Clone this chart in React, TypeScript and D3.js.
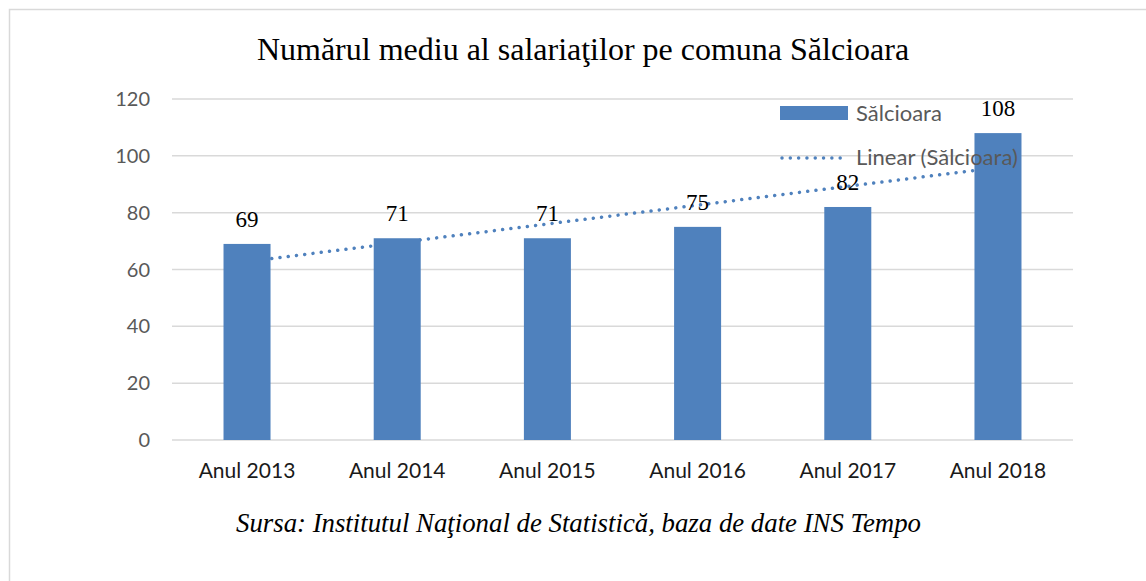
import React, { useEffect, useRef } from "react";
import * as d3 from "d3";

// chart values
const years = ["Anul 2013", "Anul 2014", "Anul 2015", "Anul 2016", "Anul 2017", "Anul 2018"];
const employees = [69, 71, 71, 75, 82, 108];
const yTicks = [0, 20, 40, 60, 80, 100, 120];

const seriesName = "Sălcioara";
const trendName = "Linear (Sălcioara)";
const title = "Numărul mediu al salariaţilor pe comuna Sălcioara";
const source = "Sursa: Institutul Naţional de Statistică, baza de date INS Tempo";

const BLUE = "#4f81bd";

function App() {
  const ref = useRef<SVGSVGElement | null>(null);

  useEffect(() => {
    const svg = d3.select(ref.current);
    svg.selectAll("*").remove();

    const width = 1146;
    const height = 581;
    const margin = { left: 172, right: 73, top: 99, bottom: 141 };

    // outer frame (cut off on the right and bottom)
    svg
      .append("rect")
      .attr("x", 9.5)
      .attr("y", 9.5)
      .attr("width", width + 20)
      .attr("height", height + 20)
      .attr("fill", "#fff")
      .attr("stroke", "#d9d9d9")
      .attr("stroke-width", 1.5);

    const x = d3
      .scaleBand()
      .domain(years)
      .range([margin.left, width - margin.right])
      .paddingInner(0.687)
      .paddingOuter(0.343);
    const y = d3
      .scaleLinear()
      .domain([0, 120])
      .range([height - margin.bottom, margin.top]);

    // gridlines
    svg
      .append("g")
      .selectAll("line")
      .data(yTicks)
      .join("line")
      .attr("x1", margin.left)
      .attr("x2", width - margin.right)
      .attr("y1", d => y(d))
      .attr("y2", d => y(d))
      .attr("stroke", "#d9d9d9")
      .attr("stroke-width", 1.5);

    // y tick labels
    svg
      .append("g")
      .selectAll("text")
      .data(yTicks)
      .join("text")
      .attr("x", margin.left - 22)
      .attr("y", d => y(d) + 7)
      .attr("text-anchor", "end")
      .attr("font-family", "Lato, 'Noto Sans', sans-serif")
      .attr("font-size", "20px")
      .attr("fill", "#595959")
      .text(d => d);

    // linear trend (least squares over the category index)
    const xs = employees.map((_, i) => i + 1);
    const mx = d3.mean(xs) as number;
    const my = d3.mean(employees) as number;
    const slope =
      d3.sum(xs.map((v, i) => (v - mx) * (employees[i] - my))) /
      d3.sum(xs.map(v => (v - mx) * (v - mx)));
    const trend = xs.map(v => my + slope * (v - mx));
    const cx = (i: number) => (x(years[i]) as number) + x.bandwidth() / 2;

    svg
      .append("path")
      .datum(trend)
      .attr("d", d3.line<number>().x((_, i) => cx(i)).y(d => y(d)))
      .attr("fill", "none")
      .attr("stroke", BLUE)
      .attr("stroke-width", 3.5)
      .attr("stroke-linecap", "round")
      .attr("stroke-dasharray", "0.01 8.3");

    // bars
    svg
      .append("g")
      .selectAll("rect")
      .data(employees)
      .join("rect")
      .attr("x", (_, i) => x(years[i]) as number)
      .attr("y", d => y(d))
      .attr("width", x.bandwidth())
      .attr("height", d => y(0) - y(d))
      .attr("fill", BLUE);

    // value labels
    svg
      .append("g")
      .selectAll("text")
      .data(employees)
      .join("text")
      .attr("x", (_, i) => cx(i))
      .attr("y", d => y(d) - 17)
      .attr("text-anchor", "middle")
      .attr("font-family", "'Liberation Serif', 'Times New Roman', serif")
      .attr("font-size", "23px")
      .attr("fill", "#000")
      .text(d => d);

    // x labels
    svg
      .append("g")
      .selectAll("text")
      .data(years)
      .join("text")
      .attr("x", d => (x(d) as number) + x.bandwidth() / 2)
      .attr("y", y(0) + 38)
      .attr("text-anchor", "middle")
      .attr("font-family", "Lato, 'Noto Sans', sans-serif")
      .attr("font-size", "21px")
      .attr("fill", "#1a1a1a")
      .text(d => d);

    // legend
    const legend = svg.append("g").attr("transform", "translate(780, 106)");
    legend
      .append("rect")
      .attr("width", 68)
      .attr("height", 14)
      .attr("fill", BLUE);
    legend
      .append("text")
      .attr("x", 76)
      .attr("y", 15)
      .attr("font-family", "Lato, 'Noto Sans', sans-serif")
      .attr("font-size", "22px")
      .attr("fill", "#595959")
      .text(seriesName);
    legend
      .append("line")
      .attr("x1", 2)
      .attr("x2", 68)
      .attr("y1", 52)
      .attr("y2", 52)
      .attr("stroke", BLUE)
      .attr("stroke-width", 3.5)
      .attr("stroke-linecap", "round")
      .attr("stroke-dasharray", "0.01 8.3");
    legend
      .append("text")
      .attr("x", 76)
      .attr("y", 59)
      .attr("font-family", "Lato, 'Noto Sans', sans-serif")
      .attr("font-size", "22px")
      .attr("fill", "#595959")
      .text(trendName);

    // title
    svg
      .append("text")
      .attr("x", 583)
      .attr("y", 60)
      .attr("text-anchor", "middle")
      .attr("font-family", "'Liberation Serif', 'Times New Roman', serif")
      .attr("font-size", "32px")
      .attr("fill", "#000")
      .text(title);

    // source note
    svg
      .append("text")
      .attr("x", 236)
      .attr("y", 532)
      .attr("textLength", 685)
      .attr("lengthAdjust", "spacingAndGlyphs")
      .attr("font-family", "'Liberation Serif', 'Times New Roman', serif")
      .attr("font-style", "italic")
      .attr("font-size", "27px")
      .attr("fill", "#000")
      .text(source);
  }, []);

  return (
    <svg
      ref={ref}
      width={1146}
      height={581}
      style={{ position: "absolute", left: 0, top: 0, background: "#fff" }}
    />
  );
}

export default App;
